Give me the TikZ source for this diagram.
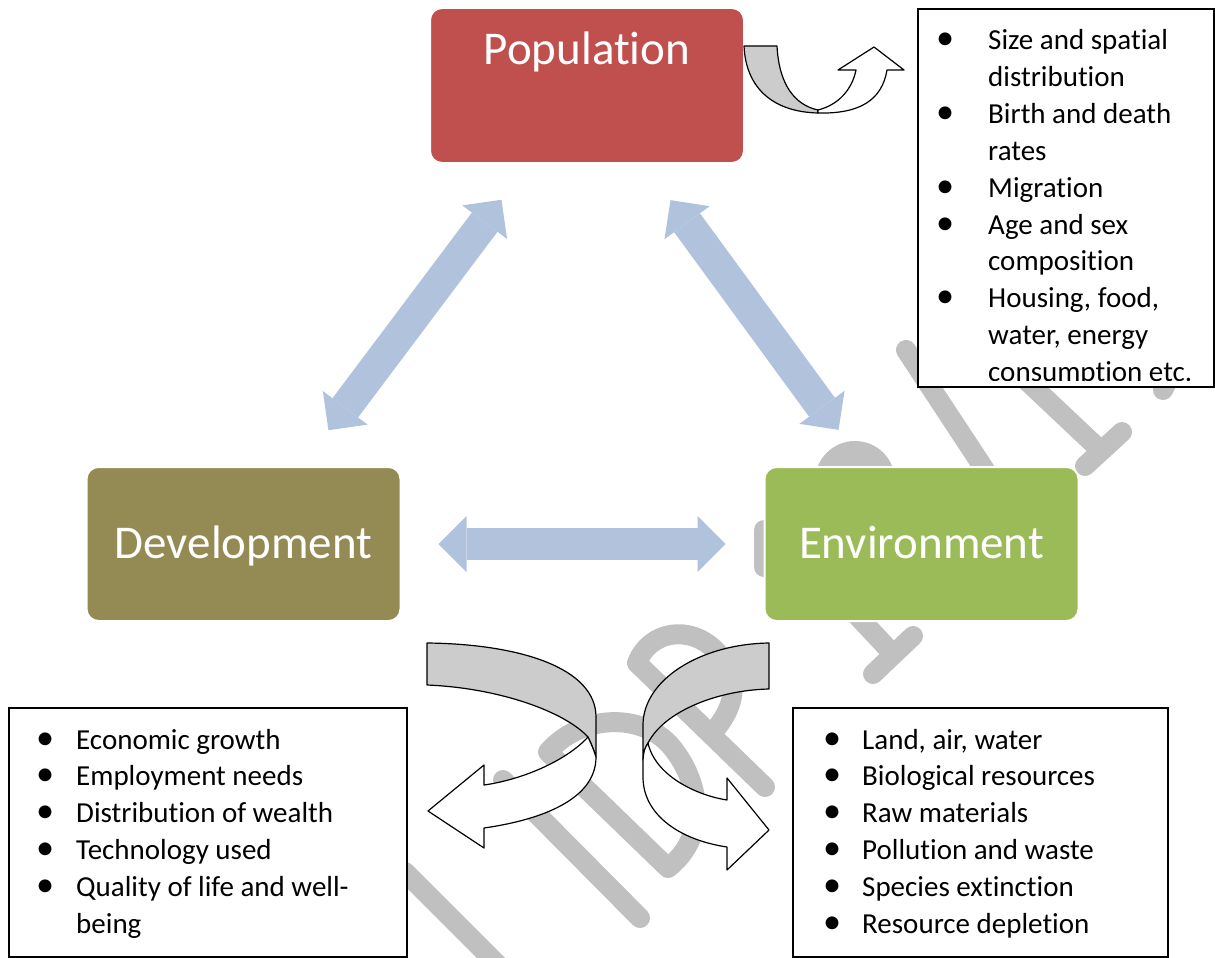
\documentclass[tikz,border=0pt]{standalone}
\usepackage{fontspec}
\setmainfont{Carlito}[RawFeature={-liga;-clig;-calt}]
\usetikzlibrary{arrows.meta, calc}

\definecolor{popred}{HTML}{C0504D}
\definecolor{devolive}{HTML}{948A54}
\definecolor{envgreen}{HTML}{9BBB59}
\definecolor{linkblue}{HTML}{B1C2DD}
\definecolor{wmgrey}{HTML}{C0C0C0}
\definecolor{foldgrey}{HTML}{CCCCCC}

\newcommand{\bul}{\makebox[20pt]{\scalebox{1.25}{\textbullet}}}

\begin{document}
\begin{tikzpicture}[x=1pt, y=-1pt,
    catbox/.style={rounded corners=12pt, draw=white, line width=2pt, minimum width=314pt, minimum height=154pt, inner sep=0pt, outer sep=0pt},
    cattext/.style={text=white, font=\fontsize{47}{56}\selectfont, anchor=base, inner sep=0pt},
    listbox/.style={draw=black, fill=white, line width=1.5pt, anchor=north west, inner sep=0pt, outer sep=0pt},
    listtext/.style={anchor=base west, inner sep=0pt, font=\fontsize{29}{36.8}\selectfont},
    link/.style={linkblue, line width=32pt, {Triangle[length=28pt, width=56pt, line width=0pt]}-{Triangle[length=28pt, width=56pt, line width=0pt]}},
    wmline/.style={wmgrey, line width=20pt, line cap=round, line join=round},
    foldback/.style={draw=black, fill=foldgrey, line width=1.2pt, line join=round},
    foldfront/.style={draw=black, fill=white, line width=1.2pt, line join=round}]
    \useasboundingbox (0,0) rectangle (1215,958);

    % Background stamp
    \draw[wmline] (405,872) -- (505,972);
    \draw[wmline] (503,780) -- (640,918);
    \draw[wmline] (668,868) -- (548,752) .. controls (580,715) and (640,712) .. (670,745) .. controls (700,780) and (710,835) .. (668,868);
    \draw[wmline] (765,787) -- (637,663) .. controls (650,630) and (690,625) .. (715,650) .. controls (740,675) and (738,705) .. (712,733);
    \draw[wmline] (805,560) -- (893,654);
    \draw[wmline] (873,674) -- (913,636);
    \draw[wmline] (906,350) -- (985,470);
    \draw[wmline] (1010,365) -- (1098,448);
    \draw[wmline] (1085,466) -- (1122,432);
    \draw[wmline] (1178,362) -- (1163,390);
    \fill[wmgrey] (855,481) circle (40);
    \draw[wmline] (764,530) -- (764,567);

    % Three main blocks
    \node[catbox, fill=popred, minimum height=155pt] (pop) at (587,85.5) {};
    \node[cattext] (poplabel) at (587,65) {Population};
    \node[catbox, fill=devolive] (dev) at (243.5,544) {};
    \node[cattext] (devlabel) at (243.5,558) {Development};
    \node[catbox, fill=envgreen] (env) at (921.5,544) {};
    \node[cattext] (envlabel) at (921.5,558) {Environment};

    % Links between blocks
    \draw[link, shorten <=46pt, shorten >=46pt] (pop) -- (dev);
    \draw[link, shorten <=46pt, shorten >=46pt] (pop) -- (env);
    \draw[link, shorten <=38pt, shorten >=39pt] (dev) -- (env);

    % Lists of factors
    \node[listbox, minimum width=296pt, minimum height=378pt] (poplist) at (918,9) {};
    \begin{scope}
        \clip (poplist.north west) rectangle ($(poplist.south east)+(0,-7)$);
        \node[listtext] (poptext) at (935,50) {\begin{tabular}[t]{@{}l@{\hspace{33pt}}l@{}}
            \bul & Size and spatial\\
                 & distribution\\
            \bul & Birth and death\\
                 & rates\\
            \bul & Migration\\
            \bul & Age and sex\\
                 & composition\\
            \bul & Housing, food,\\
                 & water, energy\\
                 & consumption etc.
        \end{tabular}};
    \end{scope}

    \node[listbox, minimum width=398pt, minimum height=249pt] (devlist) at (9,708) {};
    \node[listtext] (devtext) at (35,749) {\begin{tabular}[t]{@{}l@{\hspace{21pt}}l@{}}
        \bul & Economic growth\\
        \bul & Employment needs\\
        \bul & Distribution of wealth\\
        \bul & Technology used\\
        \bul & Quality of life and well-\\
             & being
    \end{tabular}};

    \node[listbox, minimum width=375pt, minimum height=249pt] (envlist) at (793,708) {};
    \node[listtext] (envtext) at (822,749) {\begin{tabular}[t]{@{}l@{\hspace{20pt}}l@{}}
        \bul & Land, air, water\\
        \bul & Biological resources\\
        \bul & Raw materials\\
        \bul & Pollution and waste\\
        \bul & Species extinction\\
        \bul & Resource depletion
    \end{tabular}};

    % Turning ribbons
    \filldraw[foldback] (744,46) -- (777,46) .. controls (779,85) and (795,105) .. (818,110)
        -- (818,113) .. controls (775,112) and (746,90) .. (744,46) -- cycle;
    \filldraw[foldfront] (818,110) .. controls (838,105) and (852,90) .. (856,70) -- (838,70) -- (874,47)
        -- (904,70) -- (887,70) .. controls (882,100) and (860,114) .. (818,113) -- cycle;

    \filldraw[foldback] (427,643) .. controls (520,644) and (596,668) .. (596,717) -- (596,757)
        .. controls (593,748) .. (588,737) .. controls (565,712) and (500,688) .. (427,685) -- cycle;
    \filldraw[foldfront] (588,737) .. controls (565,762) and (520,780) .. (484,785) -- (484,765) -- (428,811)
        -- (484,848) -- (484,828) .. controls (540,820) and (596,800) .. (596,757)
        .. controls (593,748) .. (588,737) -- cycle;

    \filldraw[foldback] (769,643) -- (769,689) .. controls (720,690) and (665,710) .. (648,743)
        .. controls (644,750) .. (643,760) -- (643,725) .. controls (643,680) and (700,644) .. (769,643) -- cycle;
    \filldraw[foldfront] (648,743) .. controls (655,775) and (695,795) .. (727,800) -- (727,778) -- (769,830)
        -- (727,870) -- (727,847) .. controls (680,840) and (643,815) .. (643,777) -- (643,760)
        .. controls (644,750) .. (648,743) -- cycle;
\end{tikzpicture}
\end{document}
